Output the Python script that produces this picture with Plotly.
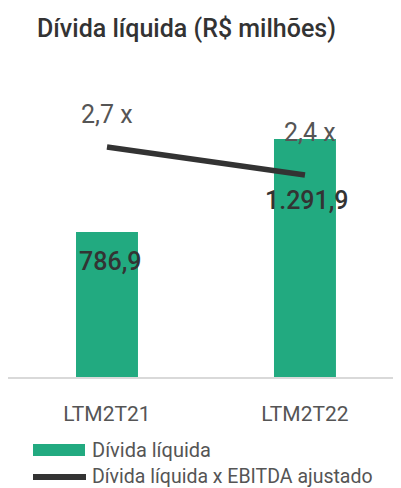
import plotly.graph_objects as go

categories = ["LTM2T21", "LTM2T22"]
divida_liquida = [786.9, 1291.9]
alavancagem = [2.7, 2.4]
bar_labels = ["786,9", "1.291,9"]
line_labels = ["2,7 x", "2,4 x"]
title_text = "Dívida líquida (R$ milhões)"
legend_names = ["Dívida líquida", "Dívida líquida x EBITDA ajustado"]

GREEN = "#22AA80"
DARK = "#333333"
GREY = "#555555"
FONT = "Roboto"

fig = go.Figure()
fig.add_trace(go.Bar(x=[0, 1], y=divida_liquida, width=0.313, marker=dict(color=GREEN, line=dict(width=0)),
                     name=legend_names[0], showlegend=False, hoverinfo="skip"))
fig.add_trace(go.Scatter(x=[0, 1], y=alavancagem, mode="lines", yaxis="y2",
                         line=dict(color=DARK, width=5.5), name=legend_names[1],
                         showlegend=False, hoverinfo="skip"))

ann = []
# bar value labels
bar_shifts = [(3, -29), (2, -62)]
for i, (v, t) in enumerate(zip(divida_liquida, bar_labels)):
    ann.append(dict(x=i, y=v, xref="x", yref="y", text=t, showarrow=False,
                    xshift=bar_shifts[i][0], yshift=bar_shifts[i][1],
                    font=dict(family=FONT, size=25, color=DARK, weight=500)))
# line value labels
line_shifts = [(0, 33), (5, 43)]
for i, (v, t) in enumerate(zip(alavancagem, line_labels)):
    ann.append(dict(x=i, y=v, xref="x", yref="y2", text=t, showarrow=False,
                    xshift=line_shifts[i][0], yshift=line_shifts[i][1],
                    font=dict(family=FONT, size=25, color=GREY)))

# manual legend (page pixel -> paper coords; plot area spans page x 8..401, y 60..377)
def px_x(p):
    return (p - 8) / 393.0

def px_y(p):
    return (377 - p) / 317.0

shapes = [
    dict(type="rect", xref="paper", yref="paper", x0=px_x(33), x1=px_x(85), y0=px_y(456), y1=px_y(444),
         fillcolor=GREEN, line=dict(width=0)),
    dict(type="line", xref="paper", yref="paper", x0=px_x(33), x1=px_x(86), y0=px_y(477), y1=px_y(477),
         line=dict(color=DARK, width=6)),
]
ann.append(dict(x=px_x(90), y=px_y(450), xref="paper", yref="paper", text=legend_names[0], showarrow=False,
                xanchor="left", yanchor="middle", font=dict(family=FONT, size=20, color=GREY)))
ann.append(dict(x=px_x(90), y=px_y(476), xref="paper", yref="paper", text=legend_names[1], showarrow=False,
                xanchor="left", yanchor="middle", font=dict(family=FONT, size=19.5, color=GREY)))

fig.update_layout(
    width=393, height=480,
    margin=dict(l=0, r=0, t=52, b=111),
    paper_bgcolor="white", plot_bgcolor="white",
    title=dict(text=title_text, x=29 / 393, xref="container", xanchor="left",
               y=1 - 20 / 480, yref="container", yanchor="middle",
               font=dict(family=FONT, size=25, color=DARK, weight=500)),
    xaxis=dict(range=[-0.5, 1.485], tickmode="array", tickvals=[0, 1], ticktext=categories,
               showline=True, linecolor="#D9D9D9", linewidth=2, showgrid=False, zeroline=False,
               ticks="", ticklabelstandoff=17,
               tickfont=dict(family=FONT, size=21, color=GREY)),
    yaxis=dict(range=[0, 1720.3], visible=False, showgrid=False, zeroline=False),
    yaxis2=dict(range=[0.236, 3.632], overlaying="y", visible=False, showgrid=False, zeroline=False),
    annotations=ann, shapes=shapes,
    showlegend=False,
)

fig.write_html("out.html")
